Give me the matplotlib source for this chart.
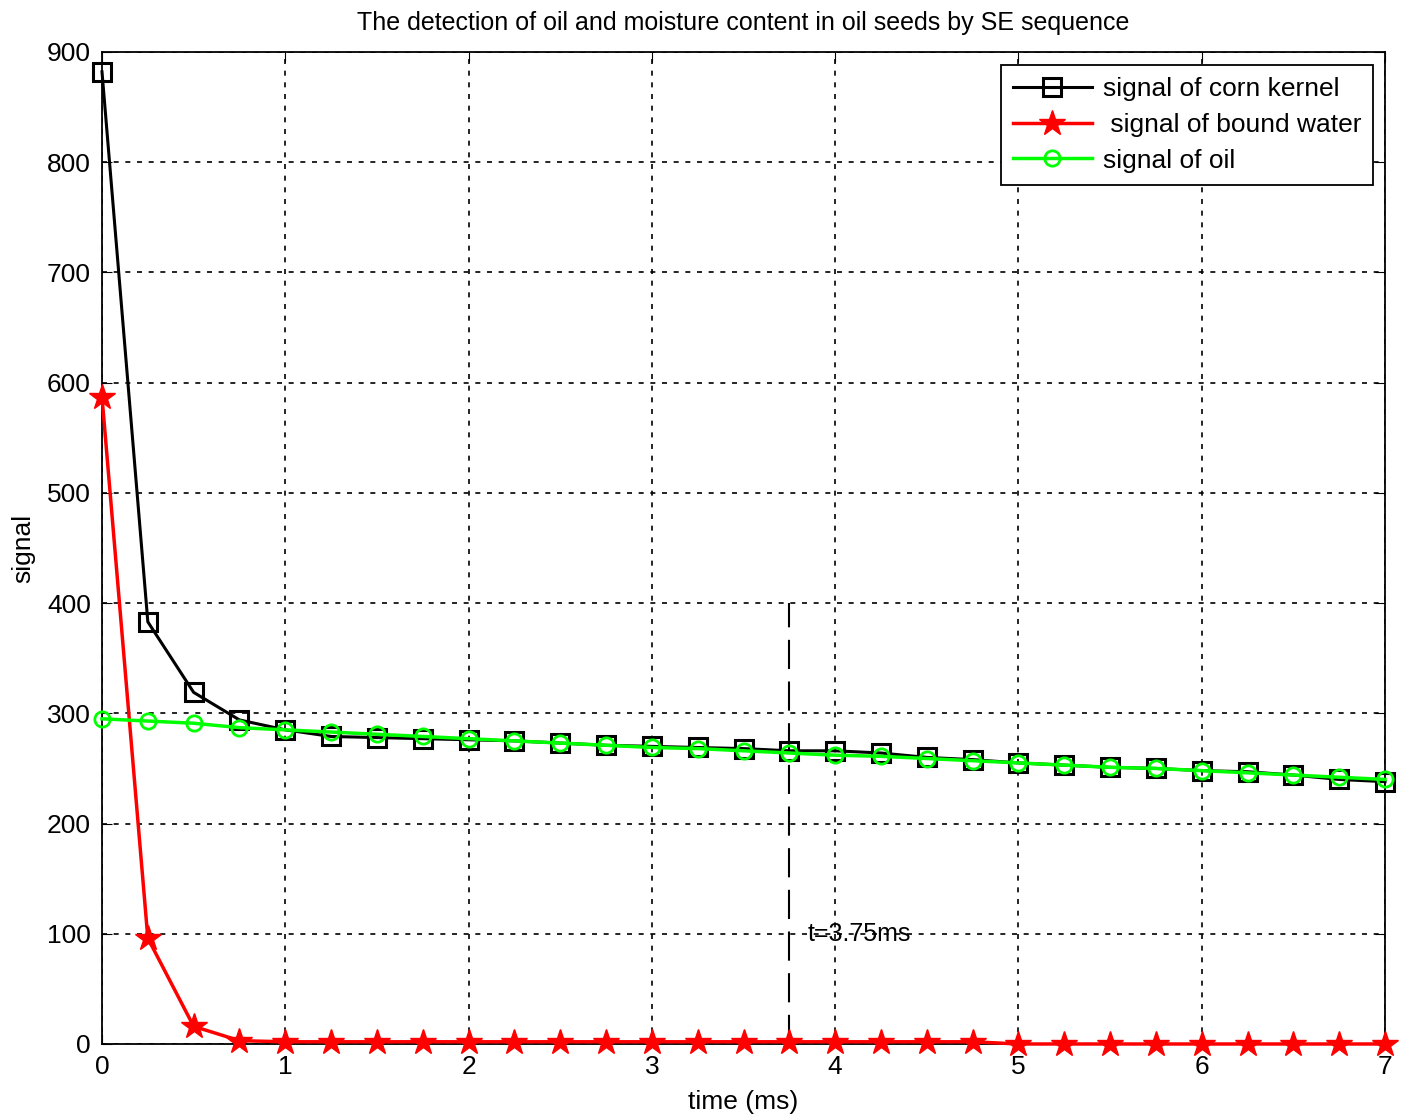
import matplotlib
matplotlib.use("Agg")
import matplotlib.pyplot as plt

plt.rcParams['font.family'] = ['Liberation Sans', 'DejaVu Sans']

# time axis (ms)
time_ms = [0, 0.25, 0.5, 0.75, 1, 1.25, 1.5, 1.75, 2, 2.25, 2.5, 2.75, 3, 3.25, 3.5,
           3.75, 4, 4.25, 4.5, 4.75, 5, 5.25, 5.5, 5.75, 6, 6.25, 6.5, 6.75, 7]

corn_kernel = [882, 383, 319, 294, 285, 279, 278, 277, 276, 275, 273, 271, 270, 269, 268,
               266, 266, 264, 260, 258, 255, 253, 251, 250, 248, 247, 244, 240, 238]

bound_water = [587, 96, 16, 3, 2, 2, 2, 2, 2, 2, 2, 2, 2, 2, 2,
               2, 2, 2, 2, 2, 0, 0, 0, 0, 0, 0, 0, 0, 0]

oil = [295, 293, 291, 287, 285, 283, 281, 279, 277, 275, 273, 271, 269, 268, 266,
       264, 262, 261, 259, 257, 255, 253, 251, 250, 248, 246, 244, 242, 240]

t_mark = 3.75
t_mark_top = 400

fig = plt.figure(figsize=(14.05, 11.18), dpi=100)
ax = fig.add_axes([0.0726, 0.0662, 0.9132, 0.8873])

ax.plot(time_ms, corn_kernel, color='black', lw=2.2, marker='s', ms=13,
        mfc='none', mew=2.2, label='signal of corn kernel', clip_on=False, zorder=3)
ax.plot(time_ms, bound_water, color='red', lw=2.5, marker='*', ms=19,
        mfc='red', mew=1, label=' signal of bound water', clip_on=False, zorder=3)
ax.plot(time_ms, oil, color='#00ff00', lw=2.5, marker='o', ms=11,
        mfc='none', mew=2, label='signal of oil', clip_on=False, zorder=4)

# vertical marker at t=3.75ms
ax.plot([t_mark, t_mark], [0, t_mark_top], color='black', lw=1.5,
        linestyle=(0, (14, 6)))
ax.text(3.85, 100, 't=3.75ms', fontsize=18, va='center', ha='left')

ax.set_xlim(0, 7)
ax.set_ylim(0, 900)
ax.set_xticks(range(0, 8))
ax.set_yticks(range(0, 901, 100))
ax.grid(True, color='black', linestyle=(0, (3, 4)), lw=1.2)
ax.tick_params(direction='in', top=True, right=True, labelsize=19, length=7, pad=8)
for s in ax.spines.values():
    s.set_linewidth(1.3)

ax.set_title('The detection of oil and moisture content in oil seeds by SE sequence',
             fontsize=18, pad=16)
ax.set_xlabel('time (ms)', fontsize=19, labelpad=8)
ax.set_ylabel('signal', fontsize=19, labelpad=8)

leg = ax.legend(loc='upper right', bbox_to_anchor=(0.9906, 0.9868), fontsize=19,
                fancybox=False, edgecolor='black', handlelength=3.0,
                borderaxespad=0.0, labelspacing=0.45, borderpad=0.45,
                handletextpad=0.4, framealpha=1)
leg.get_frame().set_linewidth(1.3)

fig.savefig('out.png', dpi=100)
